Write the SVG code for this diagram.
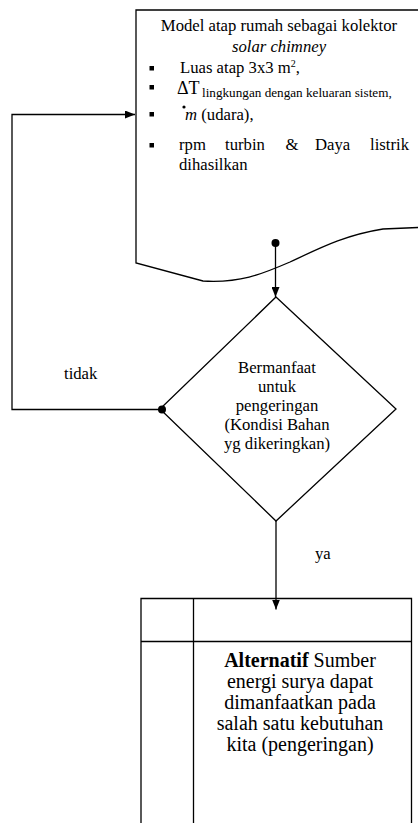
<svg xmlns="http://www.w3.org/2000/svg" width="418" height="823" viewBox="0 0 418 823">
<defs>
<style>
.t{font-family:"Liberation Serif","Times New Roman",serif;font-size:16.7px;fill:#000}
.c{text-anchor:middle}
.big{font-size:20px}
.sub{font-size:13.2px}
.dT{font-size:18px}
.sup{font-size:10px}
.ln{fill:none;stroke:#000;stroke-width:1.3}
.b{fill:#000}
</style>
<marker id="ah" viewBox="0 0 10 8" refX="10" refY="4" markerWidth="10" markerHeight="8" markerUnits="userSpaceOnUse" orient="auto">
<path d="M0,0 L10,4 L0,8 Z" fill="#000"/>
</marker>
</defs>
<rect width="418" height="823" fill="#fff"/>

<g id="kolektor">
<path class="ln" d="M430,10 L136,10 L136,263 L203,281 C240,283 260,275 290,262 C320,248 345,235 383,229 L430,227"/>
<text class="t c" x="279" y="31">Model atap rumah sebagai kolektor</text>
<text class="t c" x="279" y="51.5" font-style="italic">solar chimney</text>
<rect class="b" x="149.5" y="66" width="4.5" height="4.5"/>
<text class="t" x="180" y="73">Luas atap 3x3 m<tspan class="sup" dy="-6">2</tspan><tspan dy="6">,</tspan></text>
<rect class="b" x="149.5" y="85" width="4.5" height="4.5"/>
<text class="t dT" x="177" y="94">ΔT</text>
<text class="t sub" x="202" y="97">lingkungan dengan keluaran sistem,</text>
<circle class="b" cx="184" cy="107" r="1.6"/>
<rect class="b" x="149.5" y="112" width="4.5" height="4.5"/>
<text class="t" x="185" y="120"><tspan font-style="italic">m</tspan> (udara),</text>
<rect class="b" x="149.5" y="143" width="4.5" height="4.5"/>
<text class="t" y="150"><tspan x="179">rpm</tspan><tspan x="225">turbin</tspan><tspan x="285.5">&amp;</tspan><tspan x="315">Daya</tspan></text>
<text class="t" x="409" y="150" text-anchor="end">listrik</text>
<text class="t" x="179" y="170">dihasilkan</text>
</g>

<g id="keputusan">
<path class="ln" d="M276,297 L396,409 L276,521 L160,409 Z"/>
<text class="t c" x="277" y="372.5">Bermanfaat</text>
<text class="t c" x="277" y="391.5">untuk</text>
<text class="t c" x="277" y="410.5">pengeringan</text>
<text class="t c" x="277" y="429.5">(Kondisi Bahan</text>
<text class="t c" x="277" y="448.5">yg dikeringkan)</text>
</g>

<g id="alternatif">
<path class="ln" d="M141,830 L141,598.5 L411.5,598.5 L411.5,830"/>
<line class="ln" x1="193.5" y1="598.5" x2="193.5" y2="830"/>
<line class="ln" x1="141" y1="641.5" x2="411.5" y2="641.5"/>
<text class="t c big" x="300" y="666.5"><tspan font-weight="bold">Alternatif</tspan> Sumber</text>
<text class="t c big" x="300" y="687.5">energi surya dapat</text>
<text class="t c big" x="300" y="708.5">dimanfaatkan pada</text>
<text class="t c big" x="300" y="730">salah satu kebutuhan</text>
<text class="t c big" x="300" y="751">kita (pengeringan)</text>
</g>

<g id="connectors">
<circle class="b" cx="275.5" cy="243" r="4"/>
<line class="ln" x1="275.5" y1="243" x2="275.5" y2="297" marker-end="url(#ah)"/>
<circle class="b" cx="162" cy="409.5" r="4"/>
<path class="ln" d="M162,409.5 L12,409.5 L12,114.5 L135,114.5" marker-end="url(#ah)"/>
<line class="ln" x1="276" y1="521" x2="276" y2="609.5" marker-end="url(#ah)"/>
<text class="t" x="64" y="378.5">tidak</text>
<text class="t" x="315" y="559">ya</text>
</g>
</svg>
